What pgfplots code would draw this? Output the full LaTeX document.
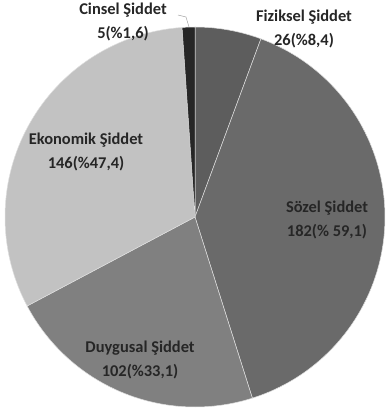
\documentclass[border=0pt]{standalone}
\usepackage{pgfplots}
\pgfplotsset{compat=1.18}
\usepackage{fontspec}
\setmainfont{Carlito}
\definecolor{cFiz}{HTML}{5D5D5D}
\definecolor{cSoz}{HTML}{6A6A6A}
\definecolor{cDuy}{HTML}{808080}
\definecolor{cEko}{HTML}{C2C2C2}
\definecolor{cCin}{HTML}{262626}
% counts: Fiziksel, Sozel, Duygusal, Ekonomik, Cinsel
\def\vFiz{26}\def\vSoz{182}\def\vDuy{102}\def\vEko{146}\def\vCin{5}
\pgfmathsetmacro\total{\vFiz+\vSoz+\vDuy+\vEko+\vCin}
\pgfmathsetmacro\aA{0}
\pgfmathsetmacro\aB{\vFiz/\total*360}
\pgfmathsetmacro\aC{(\vFiz+\vSoz)/\total*360}
\pgfmathsetmacro\aD{(\vFiz+\vSoz+\vDuy)/\total*360}
\pgfmathsetmacro\aE{(\vFiz+\vSoz+\vDuy+\vEko)/\total*360}
\pgfmathsetmacro\aF{360}
\def\cx{195}\def\cy{217}\def\rr{190}
\tikzset{lbl/.style={font=\bfseries\fontsize{16.5}{23.5}\selectfont, align=center, text=black!85, inner sep=0pt}}
\begin{document}
\begin{tikzpicture}
\begin{axis}[
  width=385bp, height=414bp, scale only axis,
  xmin=0, xmax=385, ymin=0, ymax=414, y dir=reverse,
  hide axis, clip=false,
]
\path (axis cs:0,0) rectangle (axis cs:385,414);
\addplot[fill=cFiz, draw=white!75!gray, line width=0.5pt, domain=\aA:\aB, samples=30] ({\cx+\rr*sin(x)},{\cy-\rr*cos(x)}) -- (axis cs:\cx,\cy) -- cycle;
\addplot[fill=cSoz, draw=white!75!gray, line width=0.5pt, domain=\aB:\aC, samples=80] ({\cx+\rr*sin(x)},{\cy-\rr*cos(x)}) -- (axis cs:\cx,\cy) -- cycle;
\addplot[fill=cDuy, draw=white!75!gray, line width=0.5pt, domain=\aC:\aD, samples=60] ({\cx+\rr*sin(x)},{\cy-\rr*cos(x)}) -- (axis cs:\cx,\cy) -- cycle;
\addplot[fill=cEko, draw=white!75!gray, line width=0.5pt, domain=\aD:\aE, samples=70] ({\cx+\rr*sin(x)},{\cy-\rr*cos(x)}) -- (axis cs:\cx,\cy) -- cycle;
\addplot[fill=cCin, draw=white!75!gray, line width=0.5pt, domain=\aE:\aF, samples=10] ({\cx+\rr*sin(x)},{\cy-\rr*cos(x)}) -- (axis cs:\cx,\cy) -- cycle;
\draw[gray!70, line width=0.5pt] (axis cs:178,15) -- (axis cs:186,17) -- (axis cs:189,27);
\node[lbl] at (axis cs:123,22) {Cinsel Şiddet\\5(\%1,6)};
\node[lbl] at (axis cs:304,29) {Fiziksel Şiddet\\26(\%8,4)};
\node[lbl] at (axis cs:86,152) {Ekonomik Şiddet\\146(\%47,4)};
\node[lbl] at (axis cs:327,220) {Sözel Şiddet\\182(\% 59,1)};
\node[lbl] at (axis cs:140,360) {Duygusal Şiddet\\102(\%33,1)};
\end{axis}
\end{tikzpicture}
\end{document}
